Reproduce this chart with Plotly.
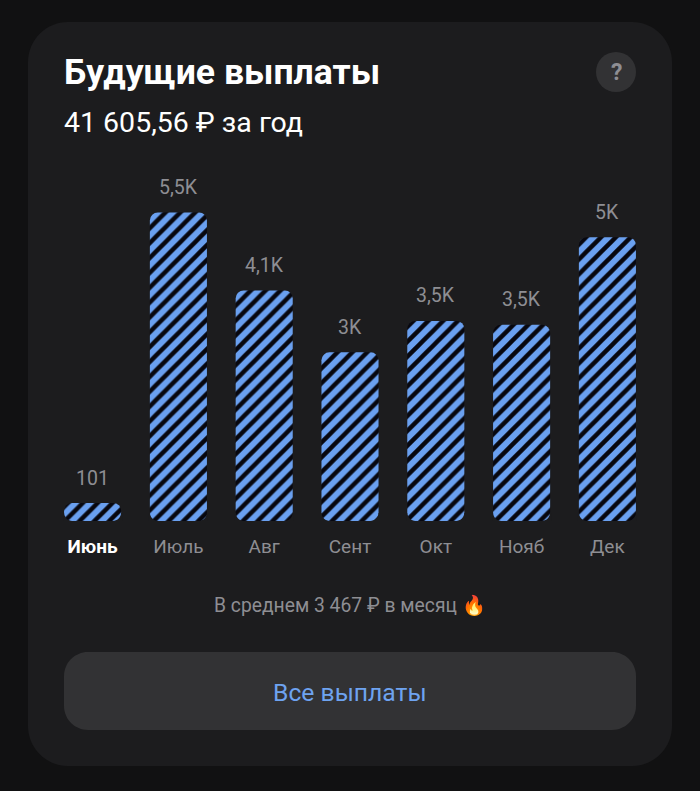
import plotly.graph_objects as go

months = ["Июнь", "Июль", "Авг", "Сент", "Окт", "Нояб", "Дек"]
# Bar heights (June's bar is drawn at a minimum visible height)
bar_values = [320, 5490, 4100, 3000, 3560, 3490, 5050]
value_labels = ["101", "5,5K", "4,1K", "3K", "3,5K", "3,5K", "5K"]
title_text = "Будущие выплаты"
subtitle_text = "41 605,56 ₽ за год"
average_text = "В среднем 3 467 ₽ в месяц 🔥"
button_text = "Все выплаты"

W, H = 700, 791
PAGE, CARD, BTN = "#111112", "#1c1c1e", "#323234"
BLUE, STRIPE = "#6aa0f0", "#07070f"
GREY = "#8e8e93"
FONT = "Roboto"


def px(x):
    return x / W


def py(y):
    return 1 - y / H


def rrect(x0, y0, x1, y1, r, color):
    k = r * 0.45
    pts = [
        f"M{px(x0 + r)},{py(y0)}", f"L{px(x1 - r)},{py(y0)}",
        f"C{px(x1 - k)},{py(y0)} {px(x1)},{py(y0 + k)} {px(x1)},{py(y0 + r)}",
        f"L{px(x1)},{py(y1 - r)}",
        f"C{px(x1)},{py(y1 - k)} {px(x1 - k)},{py(y1)} {px(x1 - r)},{py(y1)}",
        f"L{px(x0 + r)},{py(y1)}",
        f"C{px(x0 + k)},{py(y1)} {px(x0)},{py(y1 - k)} {px(x0)},{py(y1 - r)}",
        f"L{px(x0)},{py(y0 + r)}",
        f"C{px(x0)},{py(y0 + k)} {px(x0 + k)},{py(y0)} {px(x0 + r)},{py(y0)}Z",
    ]
    return dict(type="path", xref="paper", yref="paper", path=" ".join(pts),
                fillcolor=color, line_width=0, layer="below")


def note(text, x, y, size, color, anchor="left", bold=False):
    if bold:
        text = f"<b>{text}</b>"
    return dict(text=text, x=px(x), y=py(y), xref="paper", yref="paper", showarrow=False,
                xanchor=anchor, yanchor="middle", font=dict(family=FONT, size=size, color=color))


def corner_masks(i, half=28.5, r=8):
    """Card-coloured corners that round the bottom of bar i, placed relative to its baseline."""
    masks = []
    for s in (-1, 1):
        path = (f"M{s * (half + 1)},-1 L{s * (half + 1)},{r} L{s * half},{r} "
                f"C{s * half},{r * 0.45} {s * (half - r * 0.55)},0 {s * (half - r)},0 "
                f"L{s * (half - r)},-1 Z")
        masks.append(dict(type="path", xref="x", yref="y", xsizemode="pixel", ysizemode="pixel",
                          xanchor=i, yanchor=0, path=path, fillcolor=CARD, line_width=0,
                          layer="above"))
    return masks


fig = go.Figure(go.Bar(
    x=list(range(len(months))), y=bar_values,
    marker=dict(color=BLUE, line_width=0,
                pattern=dict(shape="/", size=10.5, solidity=0.42, fgcolor=STRIPE, bgcolor=BLUE,
                             fillmode="replace")),
    hoverinfo="skip", cliponaxis=False,
))

annotations = [
    note(title_text, 62, 71.5, 35.6, "#ffffff", bold=True),
    note(subtitle_text, 62, 123, 28.5, "#ffffff"),
    note(average_text, 350, 605, 19.3, GREY, "center"),
    note(button_text, 350, 692, 24.7, "#6ea3f0", "center"),
    note("?", 616, 72, 23, GREY, "center", bold=True),
]
for i, (v, t) in enumerate(zip(bar_values, value_labels)):
    annotations.append(dict(text=t, x=i, y=v, xref="x", yref="y", showarrow=False,
                            yanchor="middle", yshift=25,
                            font=dict(family=FONT, size=19.5, color=GREY)))

tick_text = [f'<span style="color:#ffffff"><b>{months[0]}</b></span>'] + months[1:]

shapes = [
    rrect(28, 22, 672, 766, 40, CARD),
    rrect(64, 652, 636, 730, 24, BTN),
    dict(type="circle", xref="paper", yref="paper", x0=px(596), x1=px(636), y0=py(92), y1=py(52),
         fillcolor=BTN, line_width=0, layer="below"),
]
for i in range(len(months)):
    shapes.extend(corner_masks(i))

fig.update_layout(
    width=W, height=H, margin=dict(l=0, r=0, t=0, b=0),
    paper_bgcolor=PAGE, plot_bgcolor="rgba(0,0,0,0)",
    bargap=0.335, barcornerradius=8, showlegend=False,
    font=dict(family=FONT),
    xaxis=dict(domain=[49.7 / W, 650.3 / W], range=[-0.5, 6.5], tickmode="array",
               tickvals=list(range(len(months))), ticktext=tick_text, showgrid=False, zeroline=False,
               showline=False, ticks="", ticklabelstandoff=12,
               tickfont=dict(family=FONT, size=19, color=GREY), fixedrange=True),
    yaxis=dict(domain=[py(521), py(150)], range=[0, 6600], visible=False, fixedrange=True),
    shapes=shapes,
    annotations=annotations,
)

fig.write_html("out.html", config={"displayModeBar": False},
               post_script="document.body.style.margin='0';document.body.style.overflow='hidden';")
